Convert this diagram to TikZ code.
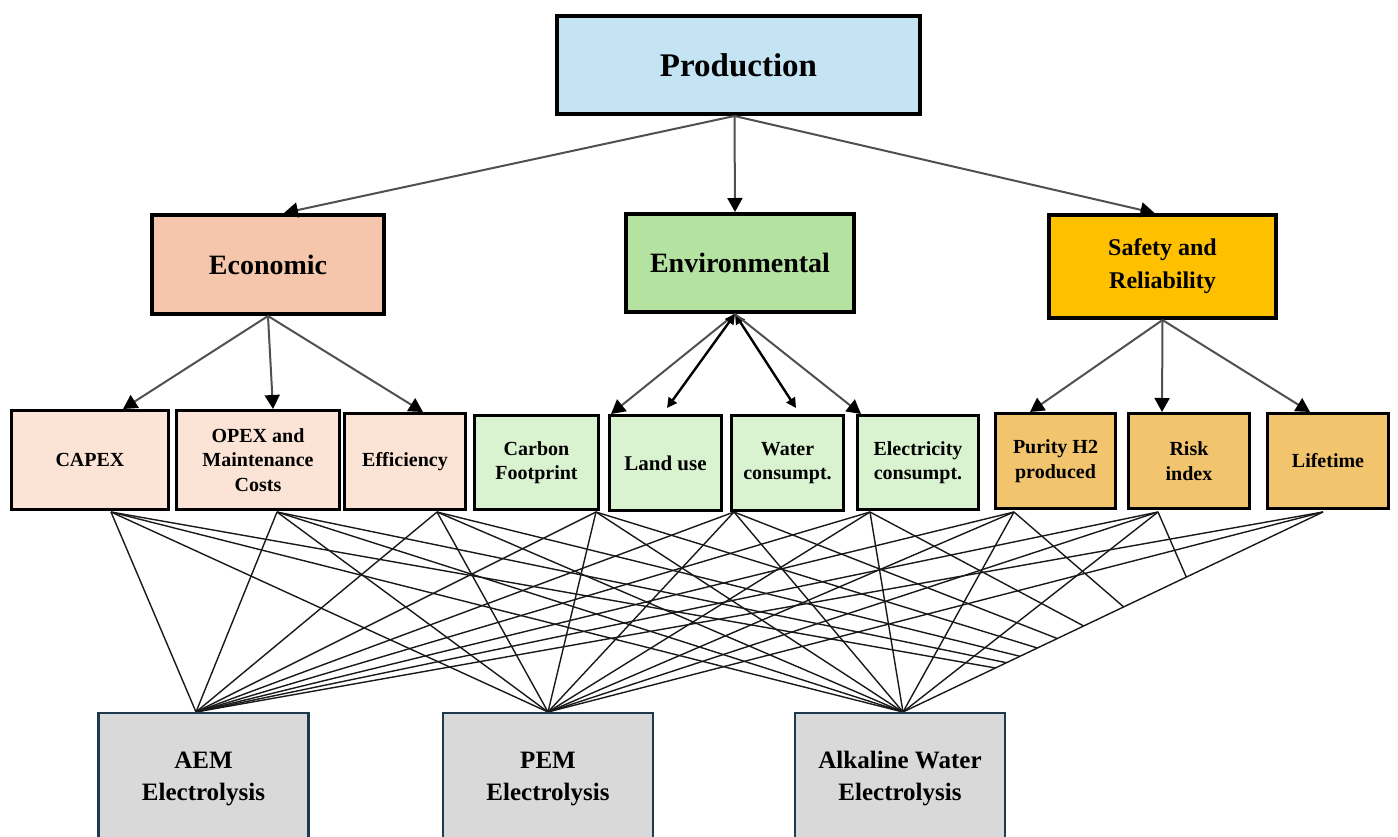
\documentclass[tikz,border=0pt]{standalone}
\usepackage{fontspec}
\setmainfont{Liberation Serif}
\usetikzlibrary{arrows.meta,calc}

\definecolor{prodblue}{HTML}{C4E4F4}
\definecolor{econ}{HTML}{F5C6AC}
\definecolor{envi}{HTML}{B4E3A1}
\definecolor{safe}{HTML}{FFC000}
\definecolor{econlt}{HTML}{FBE3D6}
\definecolor{envilt}{HTML}{D9F2D0}
\definecolor{safelt}{HTML}{F2C46E}
\definecolor{altgray}{HTML}{D9D9D9}
\definecolor{altedge}{HTML}{1F3A4C}
\definecolor{arrowgray}{HTML}{505050}

\begin{document}
\begin{tikzpicture}[x=1pt,y=-1pt,
  box/.style={draw=black, align=center, inner sep=0pt},
  head/.style={box, line width=4pt, font=\fontsize{28}{33}\selectfont\bfseries},
  leaf/.style={box, line width=3pt, font=\fontsize{20}{24.5}\selectfont\bfseries},
  alt/.style={draw=altedge, fill=altgray, line width=2.5pt, align=center,
              inner sep=0pt, minimum width=210pt, minimum height=132pt,
              font=\fontsize{25}{32}\selectfont\bfseries},
  tree/.style={draw=arrowgray, line width=2pt, -{Triangle[length=14pt,width=15pt,color=black]}},
  twoway/.style={draw=black, line width=2.4pt,
                 {Triangle[length=10pt,width=10pt]}-{Triangle[length=10pt,width=10pt]}},
  link/.style={draw=black!90, line width=1.4pt}]

\useasboundingbox (0,0) rectangle (1398,837);

% attachment points under the criteria and above the alternatives
\coordinate (c1) at (111,512);
\coordinate (c2) at (277,512);
\coordinate (c3) at (437,512);
\coordinate (c4) at (596,512);
\coordinate (c5) at (734,512);
\coordinate (c6) at (870,512);
\coordinate (c7) at (1014,512);
\coordinate (c8) at (1158,512);
\coordinate (c9) at (1323,512);
\coordinate (a1) at (196,712);
\coordinate (a2) at (548,712);
\coordinate (a3) at (903,712);
\coordinate (a4) at (1245,712);

% criteria to alternatives
\foreach \i in {1,...,9}{
  \foreach \j in {1,2,3}{
    \draw[link] (c\i) -- (a\j);
  }
}
% cut-off links, ending on the Lifetime--Alkaline line
\begin{scope}
  \clip ($(a3)!-2!(c9)$) -- ($(a3)!3!(c9)$) -- (2200,-200) -- (-200,-200) -- (-200,1200) -- cycle;
  \foreach \i in {1,...,9}{
    \draw[link] (c\i) -- (a4);
  }
\end{scope}

% goal
\node[head, fill=prodblue, minimum width=363pt, minimum height=98pt,
      font=\fontsize{33}{40}\selectfont\bfseries] (prod) at (738.5,65) {Production};

% criteria groups
\node[head, fill=econ, minimum width=232pt, minimum height=99pt] (econ) at (268,264.5) {Economic};
\node[head, fill=envi, minimum width=228pt, minimum height=98pt] (envi) at (740,263) {Environmental};
\node[head, fill=safe, minimum width=227pt, minimum height=103pt,
      font=\fontsize{24}{33}\selectfont\bfseries] (safe) at (1162.5,266.5) {Safety and\\Reliability};

% sub-criteria
\node[leaf, fill=econlt, minimum width=157pt, minimum height=99pt] (capex) at (90,460) {CAPEX};
\node[leaf, fill=econlt, minimum width=163pt, minimum height=99pt] (opex) at (258,460) {OPEX and\\Maintenance\\Costs};
\node[leaf, fill=econlt, minimum width=121pt, minimum height=96pt] (eff) at (405,461.5) {Efficiency};
\node[leaf, fill=envilt, minimum width=124pt, minimum height=94pt] (carbon) at (536.5,462.5) {Carbon\\Footprint};
\node[leaf, fill=envilt, minimum width=112pt, minimum height=95pt,
      font=\fontsize{21}{25}\selectfont\bfseries] (land) at (665.5,463) {Land use};
\node[leaf, fill=envilt, minimum width=112pt, minimum height=95pt] (water) at (787.5,463) {Water\\consumpt.};
\node[leaf, fill=envilt, minimum width=121pt, minimum height=94pt] (elec) at (918,462.5) {Electricity\\consumpt.};
\node[leaf, fill=safelt, minimum width=120pt, minimum height=95pt] (purity) at (1055.5,461) {Purity H2\\produced};
\node[leaf, fill=safelt, minimum width=121pt, minimum height=95pt] (risk) at (1189,461) {Risk\\index};
\node[leaf, fill=safelt, minimum width=121pt, minimum height=95pt] (life) at (1328,461) {Lifetime};

% alternatives
\node[alt] (aem) at (203.5,779) {AEM\\Electrolysis};
\node[alt] (pem) at (548,779) {PEM\\Electrolysis};
\node[alt] (alk) at (900,779) {Alkaline Water\\Electrolysis};

% goal to groups
\draw[tree] ([xshift=-4pt]prod.south) -- ([xshift=16pt]econ.north);
\draw[tree] ([xshift=-4pt]prod.south) -- ([xshift=-5pt]envi.north);
\draw[tree] ([xshift=-4pt]prod.south) -- ([xshift=-8pt]safe.north);

% groups to sub-criteria
\draw[tree] (econ.south) -- ([xshift=33pt]capex.north);
\draw[tree] (econ.south) -- ([xshift=15pt]opex.north);
\draw[tree] (econ.south) -- ([xshift=18pt]eff.north);

\draw[tree] ([xshift=-5pt]envi.south) -- ([xshift=74.5pt]carbon.north);
\draw[twoway] ([xshift=-5pt]envi.south) -- ([xshift=1.5pt,yshift=6pt]land.north);
\draw[twoway] ([xshift=-5pt]envi.south) -- ([xshift=8.5pt,yshift=6pt]water.north);
\draw[tree] ([xshift=-5pt]envi.south) -- ([xshift=-57pt]elec.north);

\draw[tree] (safe.south) -- ([xshift=-25.5pt]purity.north);
\draw[tree] (safe.south) -- ([xshift=-27pt]risk.north);
\draw[tree] (safe.south) -- ([xshift=-18pt]life.north);
\end{tikzpicture}
\end{document}
